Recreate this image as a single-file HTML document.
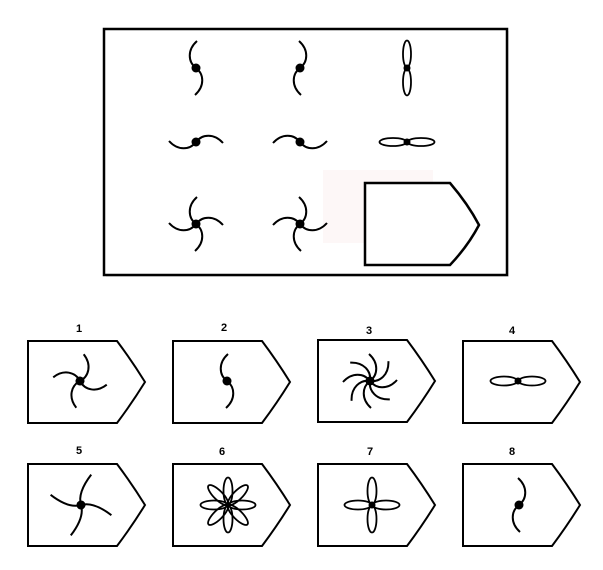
<!DOCTYPE html>
<html><head><meta charset="utf-8"><style>
html,body{margin:0;padding:0;background:#fff;}
svg{display:block;}
text{font-family:"Liberation Sans",sans-serif;font-weight:bold;font-size:11px;}
</style></head><body>
<svg width="603" height="570" viewBox="0 0 603 570" xmlns="http://www.w3.org/2000/svg">
<defs>
<path id="a" d="M0,0 C-8,-6 -9,-18 1,-27" fill="none" stroke="#000" stroke-width="2"/>
<path id="b" d="M0,0 C8,-6 9,-18 -1,-27" fill="none" stroke="#000" stroke-width="2"/>
<ellipse id="p" cx="0" cy="-14" rx="4" ry="13.5" fill="none" stroke="#000" stroke-width="1.8"/>
<ellipse id="q" cx="0" cy="-14" rx="4.5" ry="13.5" fill="none" stroke="#000" stroke-width="1.8"/>
<circle id="d" cx="0" cy="0" r="4.5" fill="#000"/>
<path id="box" d="M0,0 H89 Q104,20 117,41 Q104,62 89,82 H0 Z" fill="#fff" stroke="#000" stroke-width="2"/>
<path id="s" d="M0,0 C-5,-8 -3,-20 2,-32" fill="none" stroke="#000" stroke-width="2"/>
</defs>
<rect x="106" y="31" width="403" height="246" fill="#ddd" opacity="0.5"/>
<rect x="104" y="29" width="403" height="246" fill="#fff" stroke="#000" stroke-width="2.5"/>
<rect x="323" y="170" width="110" height="73" fill="#fdf7f7"/>
<!-- row1 -->
<g transform="translate(196,68)"><use href="#a"/><use href="#a" transform="rotate(180)"/><use href="#d"/></g>
<g transform="translate(300,68)"><use href="#b"/><use href="#b" transform="rotate(180)"/><use href="#d"/></g>
<g transform="translate(407,68)"><use href="#p"/><use href="#p" transform="rotate(180)"/><circle r="3.5"/></g>
<!-- row2 -->
<g transform="translate(196,142)"><use href="#a" transform="rotate(90)"/><use href="#a" transform="rotate(270)"/><use href="#d"/></g>
<g transform="translate(300,142)"><use href="#b" transform="rotate(90)"/><use href="#b" transform="rotate(270)"/><use href="#d"/></g>
<g transform="translate(407,142)"><use href="#p" transform="rotate(90)"/><use href="#p" transform="rotate(270)"/><circle r="3.5"/></g>
<!-- row3 -->
<g transform="translate(196,224)"><use href="#a"/><use href="#a" transform="rotate(90)"/><use href="#a" transform="rotate(180)"/><use href="#a" transform="rotate(270)"/><use href="#d"/></g>
<g transform="translate(300,224)"><use href="#b"/><use href="#b" transform="rotate(90)"/><use href="#b" transform="rotate(180)"/><use href="#b" transform="rotate(270)"/><use href="#d"/></g>
<path d="M365,183 H450 Q468,204 479,225 Q468,246 450,265 H365 Z" fill="#fff" stroke="#000" stroke-width="2.5"/>

<!-- options -->
<text x="79" y="332" text-anchor="middle">1</text>
<text x="224" y="331" text-anchor="middle">2</text>
<text x="369" y="334" text-anchor="middle">3</text>
<text x="512" y="334" text-anchor="middle">4</text>
<text x="79" y="454" text-anchor="middle">5</text>
<text x="222" y="455" text-anchor="middle">6</text>
<text x="370" y="455" text-anchor="middle">7</text>
<text x="512" y="455" text-anchor="middle">8</text>

<use href="#box" x="28" y="341"/>
<use href="#box" x="173" y="341"/>
<use href="#box" x="318" y="340"/>
<use href="#box" x="463" y="341"/>
<use href="#box" x="28" y="464"/>
<use href="#box" x="173" y="464"/>
<use href="#box" x="318" y="464"/>
<use href="#box" x="463" y="464"/>

<g transform="translate(80,381) rotate(10)"><use href="#b"/><use href="#b" transform="rotate(90)"/><use href="#b" transform="rotate(180)"/><use href="#b" transform="rotate(270)"/><use href="#d"/></g>
<g transform="translate(227,381)"><use href="#a"/><use href="#a" transform="rotate(180)"/><use href="#d"/></g>
<g transform="translate(370,381)"><use href="#b"/><use href="#b" transform="rotate(45)"/><use href="#b" transform="rotate(90)"/><use href="#b" transform="rotate(135)"/><use href="#b" transform="rotate(180)"/><use href="#b" transform="rotate(225)"/><use href="#b" transform="rotate(270)"/><use href="#b" transform="rotate(315)"/><use href="#d"/></g>
<g transform="translate(518,381)"><use href="#q" transform="rotate(90)"/><use href="#q" transform="rotate(270)"/><circle r="3.5"/></g>

<g transform="translate(81,505) rotate(15)"><use href="#s"/><use href="#s" transform="rotate(90)"/><use href="#s" transform="rotate(180)"/><use href="#s" transform="rotate(270)"/><use href="#d"/></g>
<g transform="translate(228,505)"><use href="#q"/><use href="#q" transform="rotate(45)"/><use href="#q" transform="rotate(90)"/><use href="#q" transform="rotate(135)"/><use href="#q" transform="rotate(180)"/><use href="#q" transform="rotate(225)"/><use href="#q" transform="rotate(270)"/><use href="#q" transform="rotate(315)"/><circle r="3"/></g>
<g transform="translate(372,505)"><use href="#q"/><use href="#q" transform="rotate(90)"/><use href="#q" transform="rotate(180)"/><use href="#q" transform="rotate(270)"/><circle r="3.5"/></g>
<g transform="translate(519,505)"><use href="#b"/><use href="#b" transform="rotate(180)"/><use href="#d"/></g>
</svg>
</body></html>
